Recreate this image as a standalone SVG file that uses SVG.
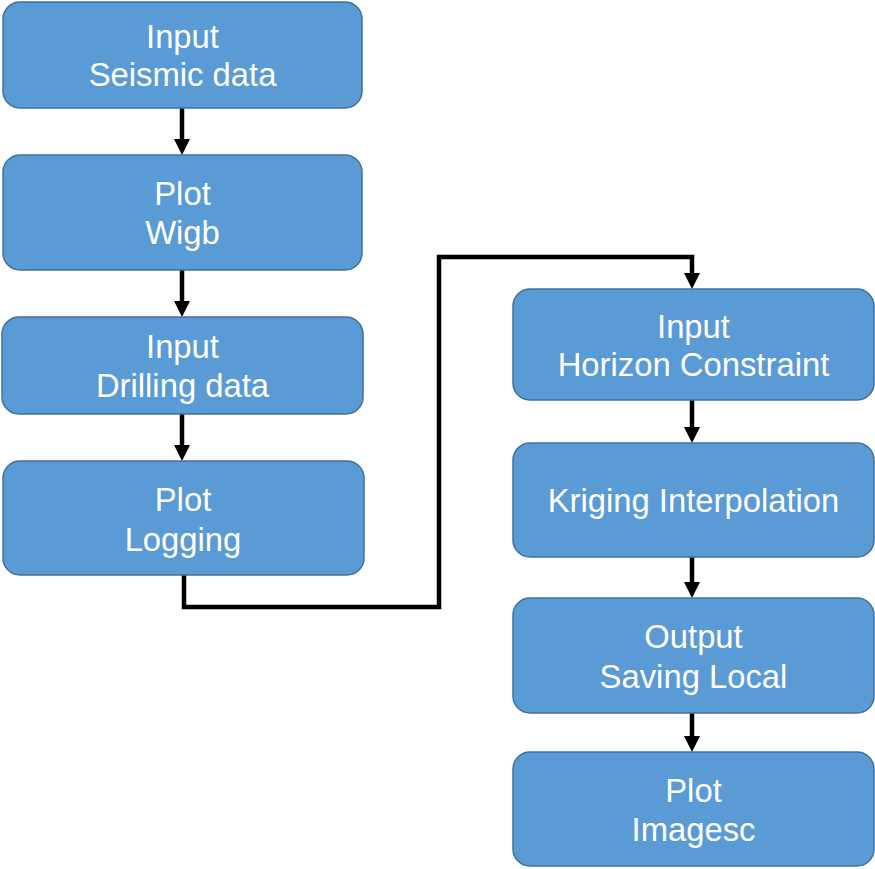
<svg xmlns="http://www.w3.org/2000/svg" width="875" height="869" viewBox="0 0 875 869">
<style>
.node rect{fill:#5B9BD5;stroke:#41719C;stroke-width:1.5}
.node text{fill:#FFFFFF;font-family:"Liberation Sans",Arial,sans-serif;font-size:32.8px;text-anchor:middle}
.conn{fill:none;stroke:#000000;stroke-width:4.5;stroke-linejoin:miter;marker-end:url(#ah)}
</style>
<defs>
<marker id="ah" markerUnits="userSpaceOnUse" markerWidth="16" markerHeight="16" refX="6" refY="8" orient="auto" viewBox="0 0 16 16">
<path d="M0,0 L16,8 L0,16 Z" fill="#000000"/>
</marker>
</defs>
<rect width="875" height="869" fill="#FFFFFF"/>
<g id="connectors">
<line class="conn" x1="182" y1="108" x2="182" y2="145"/>
<line class="conn" x1="182" y1="270" x2="182" y2="307"/>
<line class="conn" x1="182" y1="414" x2="182" y2="451"/>
<polyline class="conn" points="184,575 184,607 439,607 439,257 692,257 692,279"/>
<line class="conn" x1="692" y1="400" x2="692" y2="433"/>
<line class="conn" x1="692" y1="557" x2="692" y2="588"/>
<line class="conn" x1="692" y1="713" x2="692" y2="742"/>
</g>
<g id="node-input-seismic" class="node">
<rect x="3" y="2" width="359" height="106" rx="17"/>
<text x="182.5" y="48">Input</text>
<text x="182.5" y="86">Seismic data</text>
</g>
<g id="node-plot-wigb" class="node">
<rect x="3" y="155" width="359" height="115" rx="17"/>
<text x="182.5" y="205">Plot</text>
<text x="182.5" y="244">Wigb</text>
</g>
<g id="node-input-drilling" class="node">
<rect x="2" y="317" width="361" height="97" rx="17"/>
<text x="182.5" y="358">Input</text>
<text x="182.5" y="397">Drilling data</text>
</g>
<g id="node-plot-logging" class="node">
<rect x="3" y="461" width="361" height="114" rx="17"/>
<text x="183" y="511">Plot</text>
<text x="183" y="551">Logging</text>
</g>
<g id="node-input-horizon" class="node">
<rect x="513" y="289" width="361" height="111" rx="17"/>
<text x="693.5" y="338">Input</text>
<text x="693.5" y="376">Horizon Constraint</text>
</g>
<g id="node-kriging" class="node">
<rect x="513" y="443" width="361" height="114" rx="17"/>
<text x="693.5" y="511.5">Kriging Interpolation</text>
</g>
<g id="node-output-saving" class="node">
<rect x="513" y="598" width="361" height="115" rx="17"/>
<text x="693.5" y="648">Output</text>
<text x="693.5" y="688">Saving Local</text>
</g>
<g id="node-plot-imagesc" class="node">
<rect x="513" y="752" width="361" height="114" rx="17"/>
<text x="693.5" y="802">Plot</text>
<text x="693.5" y="841">Imagesc</text>
</g>
</svg>
